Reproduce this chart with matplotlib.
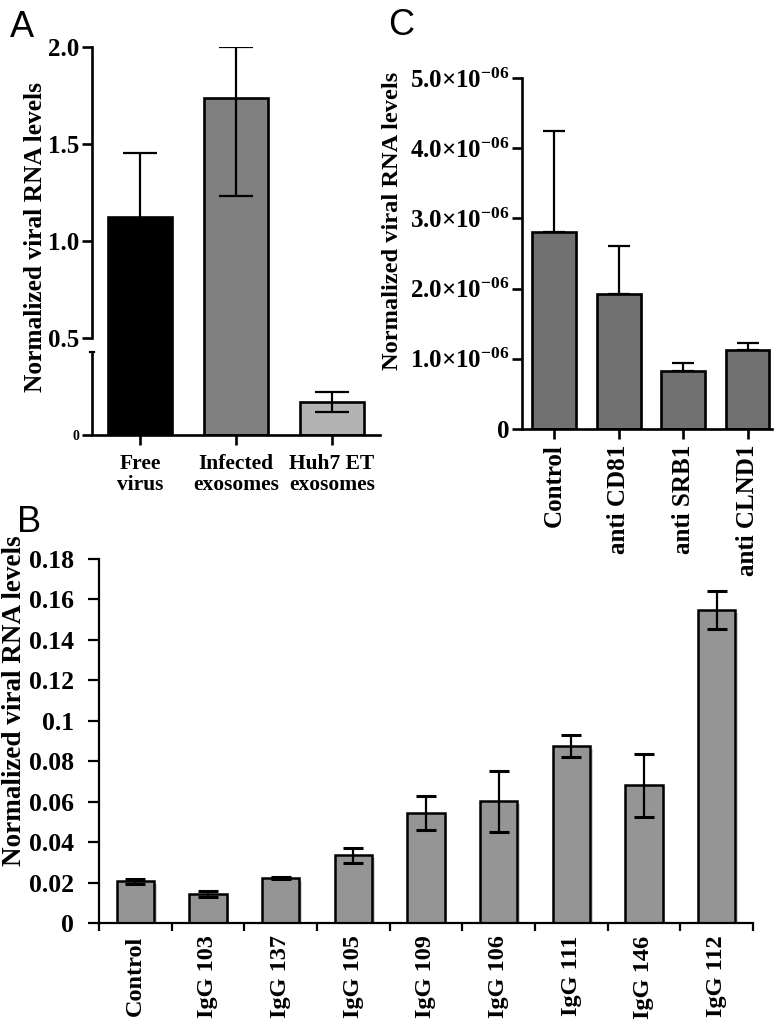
import numpy as np
import matplotlib
matplotlib.use("Agg")
import matplotlib.pyplot as plt
import matplotlib.patheffects as pe
from matplotlib.ticker import FixedLocator, FuncFormatter

plt.rcParams["font.family"] = ["Liberation Serif", "DejaVu Serif"]
plt.rcParams["font.weight"] = "bold"
plt.rcParams["axes.labelweight"] = "bold"
plt.rcParams["mathtext.fontset"] = "custom"
plt.rcParams["mathtext.rm"] = "Liberation Serif:bold"
plt.rcParams["mathtext.bf"] = "Liberation Serif:bold"
plt.rcParams["mathtext.default"] = "rm"

# ---------------- data ----------------
# Panel A
a_labels = ["Free\nvirus", "Infected\nexosomes", "Huh7 ET\nexosomes"]
a_values = [1.124, 1.737, 0.170]
a_err_low = [0.33, 0.507, 0.050]
a_err_high = [0.33, 0.263, 0.050]
a_colors = ["#000000", "#808080", "#b3b3b3"]

# Panel C
c_labels = ["Control", "anti CD81", "anti SRB1", "anti CLND1"]
c_values = [2.80e-6, 1.93e-6, 0.83e-6, 1.13e-6]
c_err_high = [1.44e-6, 0.68e-6, 0.11e-6, 0.10e-6]

# Panel B
b_labels = ["Control", "IgG 103", "IgG 137", "IgG 105", "IgG 109",
            "IgG 106", "IgG 111", "IgG 146", "IgG 112"]
b_values = [0.0206, 0.0143, 0.0221, 0.0334, 0.0545,
            0.0601, 0.0874, 0.0680, 0.1548]
b_err = [0.0012, 0.0015, 0.0005, 0.0035, 0.0085,
         0.0152, 0.0055, 0.0157, 0.0095]

W, H = 780, 1027
fig = plt.figure(figsize=(W / 100, H / 100), dpi=100)


def box(x0, x1, y0, y1):
    # pixel box -> figure fraction rect
    return [x0 / W, 1 - y1 / H, (x1 - x0) / W, (y1 - y0) / H]


def style(ax, lw):
    for s in ["top", "right"]:
        ax.spines[s].set_visible(False)
    for s in ["left", "bottom"]:
        ax.spines[s].set_linewidth(lw)
    ax.tick_params(width=lw, direction="out")
    ax.patch.set_alpha(0)


def ylabel(ax, size, x, y):
    ax.set_ylabel("Normalized viral RNA levels", fontsize=size)
    ax.yaxis.label.set_verticalalignment("baseline")
    ax.yaxis.set_label_coords(x, y)


# ---------------- panel B ----------------
axB = fig.add_axes(box(99, 753, 559, 923))
style(axB, 1.6)
xb = np.arange(len(b_values))
shadow = [pe.SimplePatchShadow(offset=(2, -2), shadow_rgbFace="0.5",
                               alpha=0.35), pe.Normal()]
bars = axB.bar(xb, b_values, width=0.51, color="#959595", edgecolor="black",
               linewidth=1.8, zorder=2)
for b in bars:
    b.set_path_effects(shadow)
axB.errorbar(xb, b_values, yerr=b_err, fmt="none", ecolor="black",
             elinewidth=1.6, capsize=7, capthick=2.2, zorder=3)
axB.set_xlim(-0.5, len(b_values) - 0.5)
axB.set_ylim(0, 0.18)
axB.set_xticks(xb)
axB.set_xticklabels(b_labels, rotation=90, fontsize=17.5)
axB.tick_params(axis="x", which="major", length=0, pad=9)
axB.set_xticks(np.arange(-0.5, len(b_values)), minor=True)
axB.tick_params(axis="x", which="minor", length=6, width=1.6)
axB.set_yticks(np.arange(0, 0.181, 0.02))
axB.yaxis.set_major_formatter(FuncFormatter(lambda v, p: "%g" % round(v, 2)))
axB.tick_params(axis="y", length=8, pad=10, labelsize=18.5)
ylabel(axB, 19.5, (21 - 99) / 654, 0.612)

# ---------------- panel A ----------------
axA = fig.add_axes(box(92, 380, 47, 435))
style(axA, 1.9)
xa = np.arange(len(a_values))
axA.bar(xa, a_values, width=0.67, color=a_colors, edgecolor="black",
        linewidth=1.9, zorder=2)
axA.errorbar(xa, a_values, yerr=[a_err_low, a_err_high], fmt="none",
             ecolor="black", elinewidth=1.6, capsize=12, capthick=1.6,
             zorder=3)
axA.set_xlim(-0.5, 2.5)
axA.set_ylim(0, 2.0)
axA.set_xticks(xa)
axA.set_xticklabels(a_labels, fontsize=15.5, linespacing=1.05)
axA.tick_params(axis="x", length=7, pad=7)
axA.set_yticks([0, 0.5, 1.0, 1.5, 2.0])
axA.set_yticklabels(["0", "0.5", "1.0", "1.5", "2.0"], fontsize=18)
axA.get_yticklabels()[0].set_fontsize(10)
axA.tick_params(axis="y", length=7, pad=2)
# broken y axis
axA.spines["left"].set_bounds(0.5, 2.0)
axA.plot([-0.5, -0.5], [0, 0.43], color="black", lw=1.9, clip_on=False,
         solid_capstyle="butt", zorder=4)
axA.plot([-0.52, -0.48], [0.43, 0.43], color="black", lw=1.6, clip_on=False,
         zorder=4)
ylabel(axA, 18.3, (42 - 92) / 288, 0.51)

# ---------------- panel C ----------------
axC = fig.add_axes(box(522, 772, 78, 429))
style(axC, 1.9)
xc = np.arange(len(c_values))
axC.bar(xc, c_values, width=0.68, color="#717171", edgecolor="black",
        linewidth=1.9, zorder=2)
axC.errorbar(xc, c_values, yerr=[np.zeros(len(c_values)), c_err_high],
             fmt="none", ecolor="black", elinewidth=1.6, capsize=8,
             capthick=1.6, zorder=1)
axC.set_xlim(-0.5, 3.38)
axC.set_ylim(0, 5e-6)
axC.set_xticks(xc)
axC.set_xticklabels(c_labels, rotation=90, fontsize=18)
axC.tick_params(axis="x", length=7, pad=4)


def c_fmt(v, pos):
    if v == 0:
        return "0"
    return "%.1f×10$^{-06}$" % (v / 1e-6)


axC.yaxis.set_major_locator(FixedLocator([0, 1e-6, 2e-6, 3e-6, 4e-6, 5e-6]))
axC.yaxis.set_major_formatter(FuncFormatter(c_fmt))
axC.tick_params(axis="y", length=7, pad=2, labelsize=18)
ylabel(axC, 17.6, (398 - 522) / 250, 0.593)

# panel letters
for letter, px, py in [("A", 10, 37), ("C", 388, 35), ("B", 17, 532)]:
    fig.text(px / W, 1 - py / H, letter, fontsize=26, fontweight="normal",
             family="Liberation Sans", ha="left", va="baseline")

fig.savefig("out.png", dpi=100)
